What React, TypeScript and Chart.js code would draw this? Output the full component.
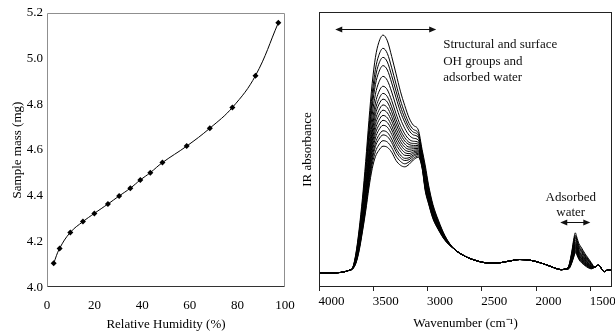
import React, { useEffect, useRef } from "react";
import { Chart, registerables } from "chart.js";

Chart.register(...registerables);

const FONT = "'Liberation Serif', 'Times New Roman', serif";

// ---------- Left panel: sorption isotherm ----------
const humidity = [2.8, 5.3, 9.8, 15.1, 19.9, 25.6, 30.3, 35.0, 39.2, 43.4, 48.5, 58.7, 68.4, 77.9, 87.6, 97.2];
const sampleMass = [4.105, 4.17, 4.24, 4.287, 4.323, 4.364, 4.399, 4.433, 4.469, 4.501, 4.545, 4.617, 4.695, 4.786, 4.925, 5.156];
const humidityTicks = [0, 20, 40, 60, 80, 100];
const massTicks = [4.0, 4.2, 4.4, 4.6, 4.8, 5.0, 5.2];

// ---------- Right panel: IR spectra ----------
const headWavenumbers = [4000, 3900, 3800, 3760, 3720];
const headAbsorbance = [0.052, 0.051, 0.053, 0.056, 0.061];

const ohWavenumbers = [3690, 3660, 3630, 3600, 3570, 3540, 3510, 3480, 3450, 3410, 3370, 3330, 3290, 3250, 3210, 3170, 3130, 3085, 3050, 3020, 2990, 2950, 2900, 2840];
const ohAbsorbance = [
  [0.070, 0.122, 0.210, 0.322, 0.456, 0.605, 0.740, 0.835, 0.888, 0.916, 0.895, 0.838, 0.775, 0.712, 0.660, 0.615, 0.588, 0.571, 0.500, 0.440, 0.370, 0.300, 0.243, 0.187],
  [0.070, 0.118, 0.201, 0.307, 0.434, 0.576, 0.703, 0.792, 0.841, 0.868, 0.849, 0.797, 0.738, 0.680, 0.633, 0.595, 0.573, 0.559, 0.492, 0.429, 0.362, 0.294, 0.239, 0.185],
  [0.069, 0.115, 0.194, 0.298, 0.420, 0.556, 0.678, 0.763, 0.810, 0.835, 0.818, 0.768, 0.712, 0.658, 0.615, 0.581, 0.563, 0.551, 0.486, 0.421, 0.356, 0.290, 0.236, 0.184],
  [0.069, 0.112, 0.189, 0.289, 0.406, 0.538, 0.655, 0.736, 0.780, 0.805, 0.789, 0.742, 0.688, 0.638, 0.599, 0.569, 0.553, 0.544, 0.481, 0.414, 0.351, 0.286, 0.233, 0.182],
  [0.068, 0.109, 0.181, 0.277, 0.389, 0.514, 0.625, 0.701, 0.743, 0.766, 0.751, 0.709, 0.658, 0.612, 0.577, 0.552, 0.541, 0.534, 0.475, 0.406, 0.345, 0.281, 0.230, 0.181],
  [0.068, 0.105, 0.174, 0.266, 0.373, 0.492, 0.597, 0.669, 0.708, 0.730, 0.717, 0.678, 0.630, 0.588, 0.557, 0.537, 0.530, 0.526, 0.469, 0.397, 0.339, 0.276, 0.227, 0.179],
  [0.068, 0.103, 0.169, 0.258, 0.361, 0.476, 0.577, 0.646, 0.682, 0.704, 0.692, 0.655, 0.610, 0.571, 0.543, 0.526, 0.522, 0.519, 0.464, 0.391, 0.334, 0.273, 0.225, 0.178],
  [0.068, 0.101, 0.165, 0.252, 0.352, 0.464, 0.561, 0.627, 0.662, 0.683, 0.672, 0.637, 0.593, 0.557, 0.531, 0.518, 0.515, 0.514, 0.461, 0.386, 0.331, 0.270, 0.223, 0.177],
  [0.067, 0.099, 0.161, 0.245, 0.342, 0.451, 0.545, 0.608, 0.641, 0.662, 0.652, 0.619, 0.577, 0.543, 0.520, 0.509, 0.509, 0.509, 0.457, 0.382, 0.327, 0.267, 0.221, 0.176],
  [0.067, 0.098, 0.157, 0.240, 0.334, 0.439, 0.530, 0.591, 0.623, 0.643, 0.633, 0.603, 0.562, 0.530, 0.509, 0.501, 0.503, 0.504, 0.454, 0.377, 0.324, 0.265, 0.219, 0.175],
  [0.067, 0.096, 0.154, 0.234, 0.325, 0.428, 0.516, 0.574, 0.605, 0.624, 0.615, 0.586, 0.547, 0.518, 0.499, 0.493, 0.497, 0.499, 0.451, 0.373, 0.321, 0.262, 0.218, 0.175],
  [0.067, 0.094, 0.150, 0.228, 0.317, 0.417, 0.502, 0.558, 0.587, 0.606, 0.598, 0.571, 0.533, 0.506, 0.489, 0.485, 0.491, 0.495, 0.448, 0.369, 0.318, 0.260, 0.216, 0.174],
  [0.067, 0.093, 0.147, 0.223, 0.309, 0.406, 0.488, 0.542, 0.570, 0.588, 0.581, 0.555, 0.519, 0.494, 0.479, 0.478, 0.486, 0.491, 0.445, 0.365, 0.315, 0.258, 0.215, 0.173],
  [0.067, 0.091, 0.143, 0.217, 0.300, 0.394, 0.473, 0.524, 0.551, 0.568, 0.562, 0.538, 0.504, 0.480, 0.468, 0.470, 0.480, 0.486, 0.442, 0.360, 0.312, 0.255, 0.213, 0.172],
  [0.066, 0.090, 0.140, 0.212, 0.293, 0.385, 0.461, 0.511, 0.536, 0.553, 0.547, 0.525, 0.492, 0.470, 0.460, 0.463, 0.475, 0.482, 0.439, 0.356, 0.309, 0.253, 0.212, 0.172],
  [0.066, 0.088, 0.136, 0.206, 0.284, 0.372, 0.446, 0.492, 0.516, 0.532, 0.527, 0.507, 0.476, 0.457, 0.448, 0.455, 0.468, 0.477, 0.435, 0.352, 0.305, 0.251, 0.210, 0.171],
  [0.066, 0.086, 0.132, 0.200, 0.275, 0.360, 0.430, 0.474, 0.496, 0.512, 0.508, 0.490, 0.460, 0.443, 0.437, 0.446, 0.462, 0.472, 0.432, 0.347, 0.302, 0.248, 0.208, 0.170],
];

const midWavenumbers = [2760, 2660, 2560, 2450, 2350, 2250, 2150, 2050, 1960, 1880, 1820, 1770, 1730];
const midAbsorbance = [0.140, 0.113, 0.097, 0.088, 0.088, 0.094, 0.100, 0.097, 0.088, 0.077, 0.068, 0.063, 0.065];

const waterWavenumbers = [1700, 1670, 1650, 1638, 1625, 1605, 1580, 1550, 1520, 1490];
const waterAbsorbance = [
  [0.075, 0.130, 0.180, 0.197, 0.182, 0.158, 0.142, 0.122, 0.105, 0.088],
  [0.074, 0.125, 0.172, 0.188, 0.174, 0.151, 0.136, 0.117, 0.101, 0.085],
  [0.073, 0.122, 0.166, 0.183, 0.169, 0.146, 0.131, 0.113, 0.098, 0.084],
  [0.073, 0.118, 0.161, 0.177, 0.164, 0.142, 0.127, 0.110, 0.095, 0.082],
  [0.072, 0.114, 0.155, 0.170, 0.158, 0.136, 0.122, 0.106, 0.092, 0.080],
  [0.071, 0.111, 0.149, 0.164, 0.153, 0.131, 0.117, 0.102, 0.089, 0.078],
  [0.070, 0.108, 0.144, 0.159, 0.148, 0.128, 0.114, 0.099, 0.087, 0.076],
  [0.070, 0.106, 0.141, 0.155, 0.145, 0.125, 0.111, 0.097, 0.085, 0.075],
  [0.069, 0.104, 0.137, 0.152, 0.142, 0.122, 0.108, 0.094, 0.083, 0.074],
  [0.069, 0.102, 0.134, 0.148, 0.139, 0.119, 0.105, 0.092, 0.081, 0.073],
  [0.068, 0.100, 0.131, 0.145, 0.136, 0.116, 0.103, 0.090, 0.080, 0.072],
  [0.068, 0.098, 0.128, 0.142, 0.133, 0.114, 0.101, 0.088, 0.078, 0.071],
  [0.068, 0.096, 0.125, 0.139, 0.130, 0.111, 0.098, 0.086, 0.077, 0.070],
  [0.067, 0.094, 0.121, 0.135, 0.127, 0.108, 0.096, 0.084, 0.075, 0.069],
  [0.067, 0.092, 0.119, 0.132, 0.124, 0.106, 0.093, 0.082, 0.074, 0.068],
  [0.066, 0.090, 0.115, 0.129, 0.121, 0.103, 0.091, 0.080, 0.072, 0.067],
  [0.066, 0.088, 0.112, 0.125, 0.118, 0.100, 0.088, 0.078, 0.070, 0.066],
];

const tailWavenumbers = [1460, 1430, 1410, 1390, 1370, 1340, 1300];
const tailAbsorbance = [0.072, 0.079, 0.076, 0.062, 0.056, 0.062, 0.060];

const wavenumberTicks = [4000, 3500, 3000, 2500, 2000, 1500];

// Annotations (arrow: from, to, level) and note texts
const ohArrow = [3850, 2920, 0.94];
const waterArrow = [1777, 1500, 0.237];
const ohNoteLines = ["Structural and surface", "OH groups and", "adsorbed water"];
const ohNoteAnchor = [2856, 0.88, 0.06];
const waterNoteLines = ["Adsorbed", "water"];
const waterNoteAnchor = [1680, 0.324, 0.055];

function drawArrow(ctx: CanvasRenderingContext2D, x1: number, x2: number, y: number) {
  const head = 7;
  const half = 3;
  const left = Math.min(x1, x2);
  const right = Math.max(x1, x2);
  ctx.beginPath();
  ctx.moveTo(left + 3, y);
  ctx.lineTo(right - 3, y);
  ctx.stroke();
  ctx.beginPath();
  ctx.moveTo(left, y);
  ctx.lineTo(left + head, y - half);
  ctx.lineTo(left + head, y + half);
  ctx.closePath();
  ctx.fill();
  ctx.beginPath();
  ctx.moveTo(right, y);
  ctx.lineTo(right - head, y - half);
  ctx.lineTo(right - head, y + half);
  ctx.closePath();
  ctx.fill();
}

const leftBoxPlugin = {
  id: "leftBox",
  afterDraw(chart: any) {
    const { ctx, chartArea } = chart;
    const l = Math.round(chartArea.left) + 0.5;
    const r = Math.round(chartArea.right) - 0.5;
    const t = Math.round(chartArea.top) + 0.5;
    const b = Math.round(chartArea.bottom) - 0.5;
    ctx.save();
    ctx.lineWidth = 1;
    ctx.strokeStyle = "#8f8f8f";
    ctx.beginPath();
    ctx.moveTo(l, b);
    ctx.lineTo(l, t);
    ctx.lineTo(r, t);
    ctx.lineTo(r, b);
    ctx.stroke();
    ctx.strokeStyle = "#333";
    ctx.beginPath();
    ctx.moveTo(l, b);
    ctx.lineTo(r, b);
    ctx.stroke();
    ctx.restore();
  },
};

const rightAnnotPlugin = {
  id: "rightAnnot",
  afterDraw(chart: any) {
    const { ctx, chartArea, scales } = chart;
    const x = scales.x;
    const y = scales.y;
    ctx.save();
    ctx.lineWidth = 1;
    ctx.strokeStyle = "#222";
    ctx.strokeRect(
      Math.round(chartArea.left) + 0.5,
      Math.round(chartArea.top) + 0.5,
      Math.round(chartArea.width) - 1,
      Math.round(chartArea.height) - 1
    );
    ctx.fillStyle = "#111";
    ctx.strokeStyle = "#111";
    drawArrow(ctx, x.getPixelForValue(ohArrow[0]), x.getPixelForValue(ohArrow[1]), Math.round(y.getPixelForValue(ohArrow[2])) + 0.5);
    drawArrow(ctx, x.getPixelForValue(waterArrow[0]), x.getPixelForValue(waterArrow[1]), Math.round(y.getPixelForValue(waterArrow[2])) + 0.5);
    ctx.font = `13px ${FONT}`;
    ctx.textBaseline = "middle";
    ctx.textAlign = "left";
    ohNoteLines.forEach((line, i) => {
      ctx.fillText(line, x.getPixelForValue(ohNoteAnchor[0]), y.getPixelForValue(ohNoteAnchor[1] - i * ohNoteAnchor[2]));
    });
    ctx.textAlign = "center";
    waterNoteLines.forEach((line, i) => {
      ctx.fillText(line, x.getPixelForValue(waterNoteAnchor[0]), y.getPixelForValue(waterNoteAnchor[1] - i * waterNoteAnchor[2]));
    });
    ctx.restore();
  },
};

export default function App() {
  const leftRef = useRef<HTMLCanvasElement>(null);
  const rightRef = useRef<HTMLCanvasElement>(null);

  useEffect(() => {
    const tickFont = { family: FONT, size: 13 };
    const left = new Chart(leftRef.current as HTMLCanvasElement, {
      type: "line",
      data: {
        datasets: [
          {
            data: humidity.map((h, i) => ({ x: h, y: sampleMass[i] })),
            borderColor: "#000",
            backgroundColor: "#000",
            borderWidth: 1,
            tension: 0.4,
            pointStyle: "rectRot",
            pointRadius: 3,
            pointBorderWidth: 0,
            fill: false,
          },
        ],
      },
      options: {
        animation: false,
        responsive: false,
        devicePixelRatio: 1,
        layout: { padding: { left: 0, right: 15, top: 12.7, bottom: 0 } },
        plugins: { legend: { display: false }, tooltip: { enabled: false } },
        scales: {
          x: {
            type: "linear",
            min: 0,
            max: 100,
            grid: { display: false, drawTicks: false },
            border: { display: false },
            afterBuildTicks: (s: any) => {
              s.ticks = humidityTicks.map((v) => ({ value: v }));
            },
            afterFit: (s: any) => {
              s.height = 44.7;
              s.paddingLeft = 0;
              s.paddingRight = 0;
            },
            ticks: { font: tickFont, color: "#000", padding: 10, maxRotation: 0, autoSkip: false },
            title: {
              display: true,
              text: "Relative Humidity (%)",
              font: tickFont,
              color: "#000",
              padding: { top: 0, bottom: 0 },
            },
          },
          y: {
            type: "linear",
            min: 4.0,
            max: 5.2,
            grid: { display: false, drawTicks: false },
            border: { display: false },
            afterBuildTicks: (s: any) => {
              s.ticks = massTicks.map((v) => ({ value: v }));
            },
            afterFit: (s: any) => {
              s.width = 47;
              s.paddingTop = 0;
              s.paddingBottom = 0;
            },
            ticks: {
              font: tickFont,
              color: "#000",
              padding: 4,
              autoSkip: false,
              callback: (v: any) => Number(v).toFixed(1),
            },
            title: {
              display: true,
              text: "Sample mass (mg)",
              font: tickFont,
              color: "#000",
              padding: { top: 10, bottom: 0 },
            },
          },
        },
      },
      plugins: [leftBoxPlugin],
    } as any);

    const allWavenumbers = [...headWavenumbers, ...ohWavenumbers, ...midWavenumbers, ...waterWavenumbers, ...tailWavenumbers];
    const datasets = ohAbsorbance.map((ohRow, i) => {
      const values = [...headAbsorbance, ...ohRow, ...midAbsorbance, ...waterAbsorbance[i], ...tailAbsorbance];
      return {
        data: allWavenumbers.map((w, j) => ({ x: w, y: values[j] })),
        borderColor: "#000",
        borderWidth: 1,
        pointRadius: 0,
        cubicInterpolationMode: "monotone",
        fill: false,
      };
    });

    const right = new Chart(rightRef.current as HTMLCanvasElement, {
      type: "line",
      data: { datasets },
      options: {
        animation: false,
        responsive: false,
        devicePixelRatio: 1,
        layout: { padding: { left: 0, right: 3, top: 12, bottom: 0 } },
        plugins: { legend: { display: false }, tooltip: { enabled: false } },
        scales: {
          x: {
            type: "linear",
            reverse: true,
            min: 1300,
            max: 4000,
            grid: { display: true, drawOnChartArea: false, drawTicks: true, tickLength: 4, color: "#222" },
            border: { display: false },
            afterBuildTicks: (s: any) => {
              s.ticks = wavenumberTicks.map((v) => ({ value: v }));
            },
            afterFit: (s: any) => {
              s.height = 45;
              s.paddingLeft = 0;
              s.paddingRight = 0;
            },
            ticks: {
              font: tickFont,
              color: "#000",
              padding: 3,
              labelOffset: 12.5,
              maxRotation: 0,
              autoSkip: false,
              callback: (v: any) => String(v),
            },
            title: {
              display: true,
              text: "Wavenumber (cm⁻¹)",
              font: tickFont,
              color: "#000",
              padding: { top: 0, bottom: 1 },
            },
          },
          y: {
            type: "linear",
            min: 0,
            max: 1,
            grid: { display: false, drawTicks: false },
            border: { display: false },
            ticks: { display: false },
            afterFit: (s: any) => {
              s.width = 19;
              s.paddingTop = 0;
              s.paddingBottom = 0;
            },
            title: {
              display: true,
              text: "IR absorbance",
              font: tickFont,
              color: "#000",
              padding: { top: 0, bottom: 0 },
            },
          },
        },
      },
      plugins: [rightAnnotPlugin],
    } as any);

    return () => {
      left.destroy();
      right.destroy();
    };
  }, []);

  return (
    <div style={{ position: "fixed", left: 0, top: 0, width: 615, height: 332, background: "#fff" }}>
      <canvas ref={leftRef} width={300} height={332} style={{ position: "absolute", left: 0, top: 0 }} />
      <canvas ref={rightRef} width={315} height={332} style={{ position: "absolute", left: 300, top: 0 }} />
    </div>
  );
}
